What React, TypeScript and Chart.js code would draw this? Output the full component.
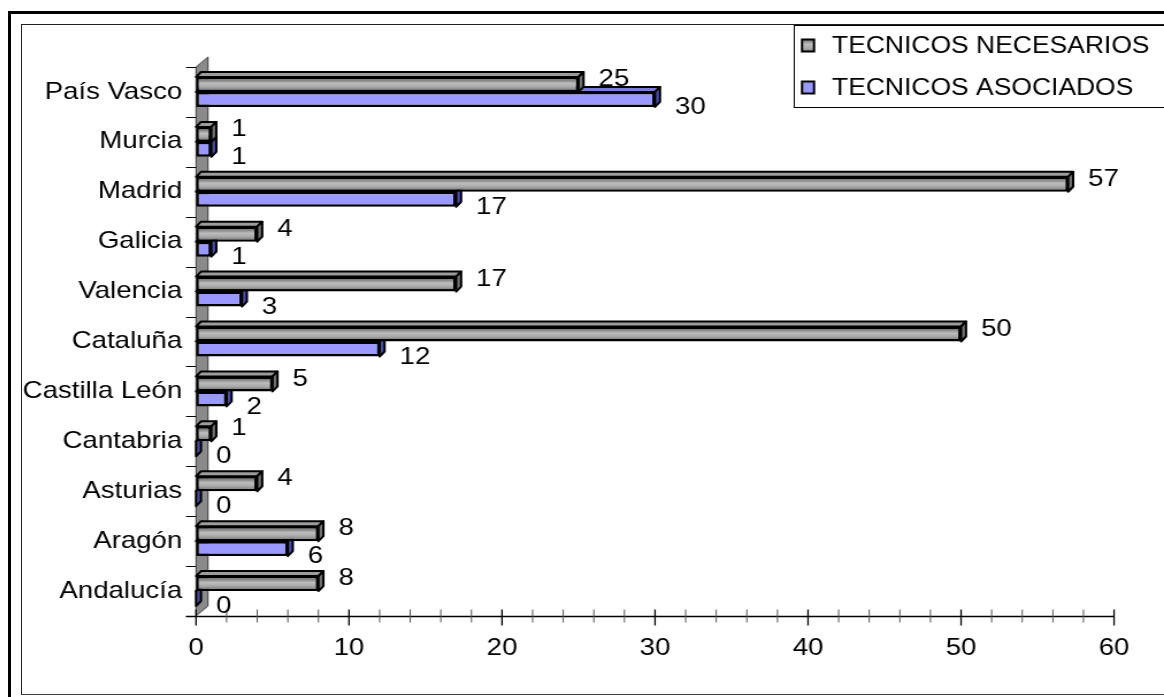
import React, { useEffect, useRef } from 'react';
import { Chart, registerables } from 'chart.js';
Chart.register(...registerables);

// ---- data ----
const categories = ['Andalucía', 'Aragón', 'Asturias', 'Cantabria', 'Castilla León', 'Cataluña', 'Valencia', 'Galicia', 'Madrid', 'Murcia', 'País Vasco'];
const necesarios = [8, 8, 4, 1, 5, 50, 17, 4, 57, 1, 25];
const asociados = [0, 6, 0, 0, 2, 12, 3, 1, 17, 1, 30];
const seriesNames = ['TECNICOS NECESARIOS', 'TECNICOS ASOCIADOS'];
const xMin = 0;
const xMax = 60;
const xStep = 10;
const xMinorStep = 2;

// ---- layout (canvas is stretched horizontally like the original picture) ----
const SX = 1.15;
const CSS_W = 1142;
const H = 668;
const W = Math.round(CSS_W / SX);
const FONT = "'Liberation Sans', Arial, sans-serif";
const FS = 24;
const LEGEND_FS = 23;
const DX = 5 / SX;
const DY = 5;
const WALL_DX = 12 / SX;
const WALL_DY = 10;
const PLOT_LEFT = (196 - 22) / SX;
const PLOT_RIGHT = (1114 - 22) / SX;
const PLOT_TOP = 42;
const PLOT_BOTTOM = 591;

const GRAY_FILL = '#a0a0a0';
const BLUE_FILL = '#9999ff';

function poly(ctx: any, pts: number[][], fill: string, stroke = '#000', lw = 2) {
  ctx.beginPath();
  ctx.moveTo(pts[0][0], pts[0][1]);
  for (let i = 1; i < pts.length; i++) ctx.lineTo(pts[i][0], pts[i][1]);
  ctx.closePath();
  ctx.fillStyle = fill;
  ctx.fill();
  ctx.strokeStyle = stroke;
  ctx.lineWidth = lw;
  ctx.lineJoin = 'round';
  ctx.stroke();
}

function grayGradient(ctx: any, top: number, bot: number) {
  const g = ctx.createLinearGradient(0, top, 0, bot);
  g.addColorStop(0, '#767676');
  g.addColorStop(0.4, '#bdbdbd');
  g.addColorStop(0.75, '#a9a9a9');
  g.addColorStop(1, '#858585');
  return g;
}

const excelPlugin = {
  id: 'excel3d',
  beforeDatasetsDraw(chart: any) {
    const { ctx, chartArea: a, scales } = chart;
    const xs = scales.x;
    const ys = scales.y;
    ctx.save();
    // back wall
    poly(ctx, [[a.left, a.bottom], [a.left, a.top], [a.left + WALL_DX, a.top - WALL_DY], [a.left + WALL_DX, a.bottom - WALL_DY]], '#8a8a8a', '#3a3a3a', 1);
    // category ticks at boundaries
    const tickLen = 10 / SX;
    ctx.strokeStyle = '#000';
    ctx.lineWidth = 1;
    for (let i = 0; i <= categories.length; i++) {
      const py = Math.round(ys.getPixelForValue(i - 0.5)) + 0.5;
      ctx.beginPath();
      ctx.moveTo(a.left - tickLen, py);
      ctx.lineTo(a.left, py);
      ctx.stroke();
    }
    // x axis line
    const by = Math.round(a.bottom) + 0.5;
    ctx.beginPath();
    ctx.moveTo(a.left - tickLen, by);
    ctx.lineTo(a.right, by);
    ctx.lineWidth = 1.3;
    ctx.stroke();
    // x ticks (crossing the axis)
    for (let v = xMin; v <= xMax; v += xMinorStep) {
      const px = xs.getPixelForValue(v);
      const major = v % xStep === 0;
      ctx.beginPath();
      ctx.moveTo(px, by - 7);
      ctx.lineTo(px, by + (major ? 9 : 6));
      ctx.strokeStyle = major ? '#000' : '#555';
      ctx.lineWidth = major ? 1.3 : 1;
      ctx.stroke();
    }
    ctx.restore();
  },
  afterDatasetDraw(chart: any, args: any) {
    const { ctx } = chart;
    const isGray = args.index === 0;
    ctx.save();
    args.meta.data.forEach((el: any) => {
      const { x, y, base, height } = el.getProps(['x', 'y', 'base', 'height'], true);
      const top = y - height / 2;
      const bot = y + height / 2;
      const x0 = Math.min(base, x);
      const x1 = Math.max(base, x);
      if (isGray && x1 - x0 > 5) {
        ctx.fillStyle = grayGradient(ctx, top + 2.5, bot - 2.5);
        ctx.fillRect(x0 + 2.5, top + 2.5, x1 - x0 - 5, height - 5);
      }
      const topColor = isGray ? '#9c9c9c' : '#7c7cd6';
      const sideColor = isGray ? '#707070' : '#4a4aa8';
      poly(ctx, [[x0, top], [x0 + DX, top - DY], [x1 + DX, top - DY], [x1, top]], topColor);
      poly(ctx, [[x1, top], [x1 + DX, top - DY], [x1 + DX, bot - DY], [x1, bot]], sideColor);
    });
    ctx.restore();
  },
  afterDatasetsDraw(chart: any) {
    const { ctx } = chart;
    ctx.save();
    ctx.font = `${FS}px ${FONT}`;
    ctx.fillStyle = '#000';
    ctx.textAlign = 'left';
    ctx.textBaseline = 'middle';
    chart.data.datasets.forEach((ds: any, di: number) => {
      const meta = chart.getDatasetMeta(di);
      meta.data.forEach((el: any, i: number) => {
        const { x, y } = el.getProps(['x', 'y'], true);
        const lx = x + DX + 15 / SX;
        const ly = di === 0 ? y - 5 : y + 8;
        ctx.fillText(String(ds.data[i]), lx, ly);
      });
    });
    ctx.restore();
  },
  afterDraw(chart: any) {
    const { ctx } = chart;
    ctx.save();
    const lx = (794 - 22) / SX;
    ctx.fillStyle = '#fff';
    ctx.fillRect(lx, 0, W, 82);
    ctx.strokeStyle = '#000';
    ctx.lineWidth = 1;
    ctx.strokeRect(Math.round(lx) + 0.5, 0.5, W, 82);
    const rows = [20.5, 62.5];
    const swX = (802 - 22) / SX;
    const swW = 12 / SX;
    const txX = (832 - 22) / SX;
    ctx.font = `${LEGEND_FS}px ${FONT}`;
    ctx.textBaseline = 'middle';
    ctx.textAlign = 'left';
    chart.data.datasets.forEach((ds: any, i: number) => {
      const cy = rows[i];
      ctx.fillStyle = i === 0 ? grayGradient(ctx, cy - 6, cy + 6) : BLUE_FILL;
      ctx.fillRect(swX, cy - 6, swW, 12);
      ctx.strokeStyle = '#000';
      ctx.lineWidth = 2;
      ctx.strokeRect(swX, cy - 6, swW, 12);
      ctx.fillStyle = '#000';
      ctx.fillText(ds.label, txX, cy + 1);
    });
    ctx.restore();
  },
};

export default function App() {
  const ref = useRef<HTMLCanvasElement | null>(null);
  useEffect(() => {
    const canvas = ref.current;
    if (!canvas) return;
    const font = { family: FONT, size: FS };
    const chart = new Chart(canvas, {
      type: 'bar',
      data: {
        labels: categories,
        datasets: [
          {
            label: seriesNames[0],
            data: necesarios,
            backgroundColor: GRAY_FILL,
            borderColor: '#000',
            borderWidth: 2.5,
            borderSkipped: false,
            categoryPercentage: 0.6,
            barPercentage: 1,
          },
          {
            label: seriesNames[1],
            data: asociados,
            backgroundColor: BLUE_FILL,
            borderColor: '#000',
            borderWidth: 2.5,
            borderSkipped: false,
            categoryPercentage: 0.6,
            barPercentage: 1,
          },
        ],
      },
      options: {
        indexAxis: 'y',
        responsive: false,
        animation: false,
        devicePixelRatio: 1,
        layout: { padding: { top: PLOT_TOP, right: W - PLOT_RIGHT, left: 0, bottom: 0 } },
        plugins: { legend: { display: false }, tooltip: { enabled: false } },
        scales: {
          x: {
            type: 'linear',
            min: xMin,
            max: xMax,
            ticks: { stepSize: xStep, font, color: '#000', padding: 18 },
            grid: { display: false, drawTicks: false },
            border: { display: false },
            afterFit: (s: any) => { s.height = H - PLOT_BOTTOM; },
          },
          y: {
            reverse: true,
            ticks: { font, color: '#000', padding: 12, autoSkip: false },
            grid: { display: false, drawTicks: false },
            border: { display: false },
            afterFit: (s: any) => { s.width = PLOT_LEFT; },
          },
        },
      } as any,
      plugins: [excelPlugin],
    });
    return () => chart.destroy();
  }, []);

  return (
    <div style={{ position: 'fixed', left: 0, top: 0, width: 1164, height: 697, overflow: 'hidden', background: '#fff' }}>
      <div style={{ position: 'absolute', left: 8, top: 11, width: 3, height: 686, background: '#000' }} />
      <div style={{ position: 'absolute', left: 8, top: 11, width: 1156, height: 3, background: '#000' }} />
      <div style={{ position: 'absolute', left: 21, top: 24, width: 1160, height: 669, borderLeft: '1px solid #202020', borderTop: '1px solid #202020', borderBottom: '1px solid #404040' }} />
      <canvas
        ref={ref}
        width={W}
        height={H}
        style={{ position: 'absolute', left: 22, top: 25, width: CSS_W, height: H }}
      />
    </div>
  );
}
